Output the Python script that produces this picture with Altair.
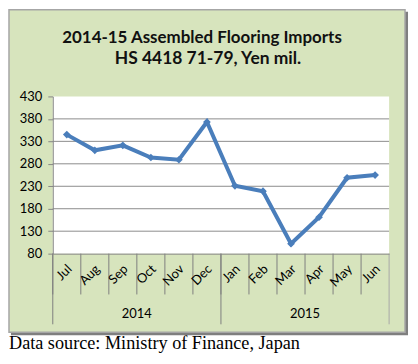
import altair as alt
import pandas as pd

# ---- data ----
months = ["Jul", "Aug", "Sep", "Oct", "Nov", "Dec", "Jan", "Feb", "Mar", "Apr", "May", "Jun"]
values = [345, 310, 321, 294, 289, 373, 231, 219, 102, 161, 249, 255]
y_ticks = [80, 130, 180, 230, 280, 330, 380, 430]
grid_vals = [130, 180, 230, 280, 330, 380]
year_labels = ["2014", "2015"]
year_anchor = ["Oct", "Apr"]          # boundary at centre of each year's span
year_edges_left = ["Jul", "Jan"]
year_edge_right = ["Jun"]
title1 = "2014-15 Assembled Flooring Imports"
title2 = "HS 4418 71-79, Yen mil."
footer = "Data source: Ministry of Finance, Japan"

df = pd.DataFrame({"month": months, "value": values})
one = pd.DataFrame({"k": [0]})
grid_df = pd.DataFrame({"value": grid_vals})
sep_df = pd.DataFrame({"month": months})
yl_df = pd.DataFrame({"month": year_edges_left})
yr_df = pd.DataFrame({"month": year_edge_right})
year_df = pd.DataFrame({"month": year_anchor, "year": year_labels})

W, H = 338, 158
FONT = "Lato"

xscale = alt.Scale(type="band", domain=months, paddingInner=0, paddingOuter=0)
yscale = alt.Scale(domain=[80, 430], nice=False, zero=False)

x_axis = alt.Axis(title=None, labelAngle=-45, labelAlign="right", labelBaseline="middle",
                  labelPadding=13, labelOffset=3, ticks=False, tickSize=0,
                  domain=True, domainColor="#868686", grid=False,
                  labelFont=FONT, labelFontSize=13, labelColor="#000000", zindex=1)
y_axis = alt.Axis(title=None, values=y_ticks, domain=True, domainColor="#868686",
                  ticks=True, tickSize=5, tickColor="#868686", labelPadding=6,
                  grid=False, labelFont=FONT, labelFontSize=13, labelColor="#000000", zindex=1)

X = lambda **kw: alt.X("month:N", scale=xscale, axis=x_axis, sort=months, **kw)
Y = alt.Y("value:Q", scale=yscale, axis=y_axis)

shadow = alt.Chart(one).mark_rect(fill="#7f7f7f").encode(
    x=alt.value(-42), x2=alt.value(357), y=alt.value(-85), y2=alt.value(240))
box = alt.Chart(one).mark_rect(fill="#D7E4BD", stroke="#a6a6a6", strokeWidth=1.5).encode(
    x=alt.value(-44), x2=alt.value(354), y=alt.value(-87), y2=alt.value(237))
plotbg = alt.Chart(one).mark_rect(fill="white").encode(
    x=alt.value(0), x2=alt.value(W), y=alt.value(0), y2=alt.value(H))

grid = alt.Chart(grid_df).mark_rule(color="#8c8c8c", strokeWidth=1).encode(
    y=Y, x=alt.value(0), x2=alt.value(W))

seps = alt.Chart(sep_df).mark_rule(color="#7f7f7f", strokeWidth=1).encode(
    x=X(bandPosition=0), y=alt.value(H), y2=alt.value(199))
ysep_l = alt.Chart(yl_df).mark_rule(color="#7f7f7f", strokeWidth=1).encode(
    x=X(bandPosition=0), y=alt.value(H), y2=alt.value(229))
ysep_r = alt.Chart(yr_df).mark_rule(color="#a8a8a8", strokeWidth=1).encode(
    x=X(bandPosition=1), y=alt.value(H), y2=alt.value(229))

years = alt.Chart(year_df).mark_text(font=FONT, fontSize=13, color="#000000",
                                     baseline="alphabetic", align="center").encode(
    x=X(bandPosition=0), y=alt.value(223), text="year:N")

line = alt.Chart(df).mark_line(color="#4a7ebb", strokeWidth=4).encode(
    x=X(bandPosition=0.5), y=Y)
pts = alt.Chart(df).mark_point(shape="diamond", filled=True, size=60, color="#4a7ebb",
                               opacity=1).encode(x=X(bandPosition=0.5), y=Y)

t1 = alt.Chart(one).mark_text(font=FONT, fontSize=17, fontWeight="bold", color="#111111",
                              align="center", baseline="alphabetic").encode(
    x=alt.value(150), y=alt.value(-54), text=alt.value(title1))
t2 = alt.Chart(one).mark_text(font=FONT, fontSize=17.5, fontWeight="bold", color="#111111",
                              align="center", baseline="alphabetic").encode(
    x=alt.value(156), y=alt.value(-33), text=alt.value(title2))
foot = alt.Chart(one).mark_text(font="Liberation Serif", fontSize=18.3, color="#000000",
                                align="left", baseline="alphabetic").encode(
    x=alt.value(-44), y=alt.value(254), text=alt.value(footer))

chart = alt.layer(shadow, box, plotbg, grid, seps, ysep_l, ysep_r, years, line, pts,
                  t1, t2, foot).properties(
    width=W, height=H,
    autosize=alt.AutoSizeParams(type="none"),
    padding={"left": 45, "top": 88, "right": 21, "bottom": 104},
    background="white",
).configure_view(stroke=None)

chart.save("out.html", embed_options={"renderer": "svg", "actions": False})
